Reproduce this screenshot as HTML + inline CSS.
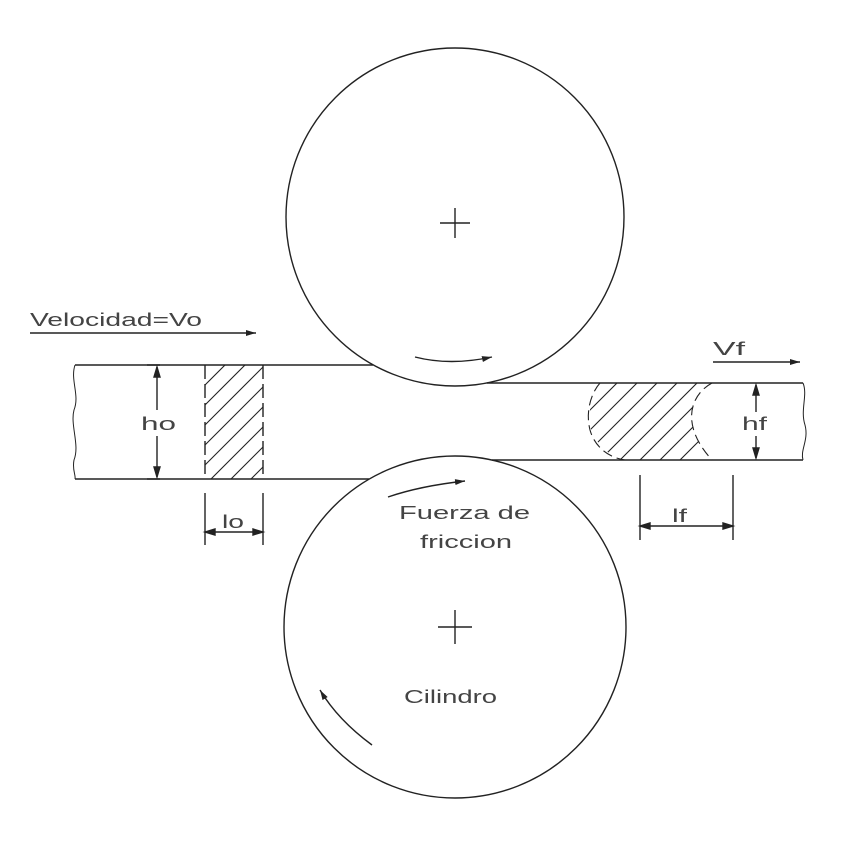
<!DOCTYPE html>
<html><head><meta charset="utf-8"><style>
html,body{margin:0;padding:0;background:#fff}
svg{display:block}
text{font-family:"Liberation Sans",sans-serif;fill:#444;font-size:18px}
</style></head><body>
<svg width="858" height="849" viewBox="0 0 858 849" xmlns="http://www.w3.org/2000/svg">
<defs>
<marker id="a" markerWidth="10" markerHeight="6" refX="10" refY="3" orient="auto" markerUnits="userSpaceOnUse">
<path d="M0,0 L10,3 L0,6 Z" fill="#222"/></marker>
<clipPath id="cl"><rect x="205" y="365" width="58" height="114"/></clipPath>
<clipPath id="cr"><path d="M600,383 L712,383 C690,395 680,425 712,460 L620,460 C600,450 585,430 590,410 C592,395 598,388 600,383 Z"/></clipPath>
</defs>
<g stroke="#222" stroke-width="1.4" fill="none">
<circle cx="455" cy="217" r="169"/>
<circle cx="455" cy="627" r="171"/>
<path d="M440,223 H470 M455,208 V238"/>
<path d="M438,627 H472 M455,610 V644"/>
<path d="M75,365 H373 M75,479 H369 M487,383 H803 M492,460 H803"/>
<path d="M75,365 C70,380 80,395 74,410 C70,425 80,445 74,460 C72,470 76,475 75,479" stroke-width="1"/>
<path d="M803,383 C808,395 800,410 805,425 C809,440 800,450 803,460" stroke-width="1"/>
<path d="M205,365 V479" stroke-dasharray="14,5"/>
<path d="M263,365 V479" stroke-dasharray="14,5"/>
<g clip-path="url(#cl)" stroke-width="1.1">
<path d="M190,400 L230,360 M190,420 L250,360 M190,440 L270,360 M190,460 L290,360 M190,480 L290,380 M200,490 L290,400 M220,490 L290,420 M240,490 L290,440"/>
</g>
<g clip-path="url(#cr)" stroke-width="1.1">
<path d="M560,420 L620,360 M560,440 L640,360 M560,460 L660,360 M570,470 L680,360 M590,470 L700,360 M610,470 L720,360 M630,470 L740,360 M650,470 L760,360 M670,470 L780,360"/>
</g>
<path d="M600,383 C592,392 585,410 590,430 C595,448 610,458 625,460" stroke-dasharray="10,5" stroke-width="1.1"/>
<path d="M712,383 C690,395 680,425 712,460" stroke-dasharray="10,5" stroke-width="1.1"/>
<path d="M157,367 V410 M157,436 V477" />
<path d="M157,367 l-3,10 h6 z M157,477 l-3,-10 h6 z" fill="#222"/>
<path d="M147,365 H160 M147,479 H160" stroke-width="1.6"/>
<path d="M205,493 V545 M263,493 V545 M205,532 H263"/>
<path d="M205,532 l10,-3 v6 z M263,532 l-10,-3 v6 z" fill="#222"/>
<path d="M756,385 V412 M756,436 V458"/>
<path d="M756,385 l-3,10 h6 z M756,458 l-3,-10 h6 z" fill="#222"/>
<path d="M640,475 V540 M733,475 V540 M640,526 H733"/>
<path d="M640,526 l10,-3 v6 z M733,526 l-10,-3 v6 z" fill="#222"/>
<path d="M30,333 H256" marker-end="url(#a)"/>
<path d="M713,362 H800" marker-end="url(#a)"/>
<path d="M415,357 Q450,366 492,357" marker-end="url(#a)"/>
<path d="M388,497 Q420,486 465,481" marker-end="url(#a)"/>
<path d="M372,745 Q338,720 320,690" marker-end="url(#a)"/>
</g>
<text x="30" y="326" textLength="172" lengthAdjust="spacingAndGlyphs">Velocidad=Vo</text>
<text x="713" y="355" textLength="32" lengthAdjust="spacingAndGlyphs">Vf</text>
<text x="141" y="430" textLength="35" lengthAdjust="spacingAndGlyphs">ho</text>
<text x="222" y="528" textLength="22" lengthAdjust="spacingAndGlyphs">lo</text>
<text x="742" y="430" textLength="25" lengthAdjust="spacingAndGlyphs">hf</text>
<text x="672" y="522" textLength="15" lengthAdjust="spacingAndGlyphs">lf</text>
<text x="399" y="519" textLength="131" lengthAdjust="spacingAndGlyphs">Fuerza de</text>
<text x="420" y="548" textLength="92" lengthAdjust="spacingAndGlyphs">friccion</text>
<text x="404" y="703" textLength="93" lengthAdjust="spacingAndGlyphs">Cilindro</text>
</svg>
</body></html>
